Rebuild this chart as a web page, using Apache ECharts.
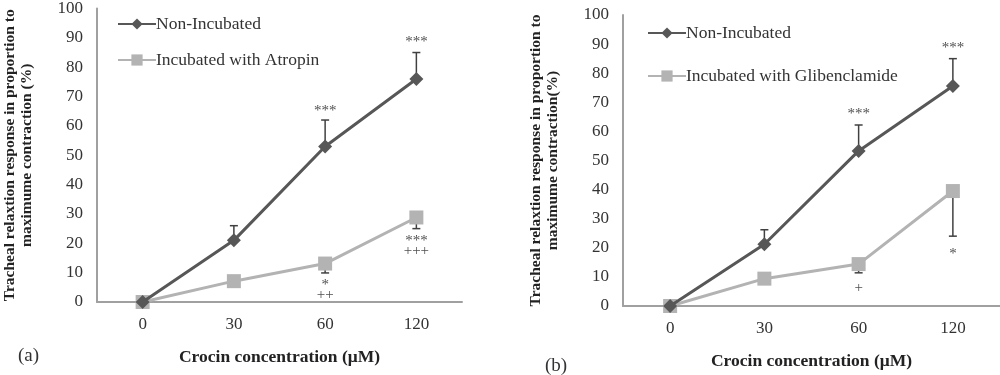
<!DOCTYPE html>
<html>
<head>
<meta charset="utf-8">
<script src="https://cdn.jsdelivr.net/npm/echarts@6/dist/echarts.min.js"></script>
<style>
  html, body { margin: 0; padding: 0; background: #fff; }
  #chart { width: 1000px; height: 375px; }
</style>
</head>
<body>
<div id="chart"></div>
<script>
// concentrations (uM)
const categories = ['0', '30', '60', '120'];

// panel (a)
const nonIncA = [0, 21, 53, 76];
const nonIncErrA = [0, 5, 9, 9];
const atropin = [0, 7.1, 13.1, 28.8];
const atropinErr = [0, 0, 3.2, 3.8];

// panel (b)
const nonIncB = [0, 21.2, 53.3, 75.6];
const nonIncErrB = [0, 5, 8.9, 9.4];
const gliben = [0, 9.4, 14.4, 39.5];
const glibenErr = [0, 0, 3, 15.5];

// significance marks: [category index, y value, text]
const marksA = [[2, 65.2, '***'], [3, 88.5, '***'], [2, 5.7, '*'], [2, 2.2, '++'], [3, 20.9, '***'], [3, 17.2, '+++']];
const marksB = [[2, 66, '***'], [3, 88.6, '***'], [2, 6.3, '+'], [3, 17.9, '*']];

const FONT = "'Liberation Serif', 'Times New Roman', serif";
const DARK = '#575757';
const LIGHT = '#b3b3b3';
const yTitle = 'Tracheal relaxtion response in proportion to';

const chart = echarts.init(document.getElementById('chart'));

function errBars(vals, errs, dir) {
    return vals.map((v, i) => [i, v, errs[i] * dir]);
}

function renderErr(params, api) {
    const i = api.value(0);
    const v = api.value(1);
    const e = api.value(2);
    if (!e) return null;
    const p0 = api.coord([i, v]);
    const p1 = api.coord([i, v + e]);
    const w = 4;
    return {
        type: 'group',
        children: [
            { type: 'line', shape: { x1: p0[0], y1: p0[1], x2: p1[0], y2: p1[1] }, style: { stroke: '#404040', lineWidth: 1.5 } },
            { type: 'line', shape: { x1: p1[0] - w, y1: p1[1], x2: p1[0] + w, y2: p1[1] }, style: { stroke: '#404040', lineWidth: 1.5 } }
        ]
    };
}

function lineSeries(name, data, idx, dark) {
    return {
        name: name,
        type: 'line',
        data: data,
        xAxisIndex: idx,
        yAxisIndex: idx,
        symbol: dark ? 'diamond' : 'rect',
        symbolSize: 14,
        lineStyle: { color: dark ? DARK : LIGHT, width: 3 },
        itemStyle: { color: dark ? DARK : LIGHT },
        z: dark ? 4 : 3,
        animation: false
    };
}

function errSeries(data, idx) {
    return {
        type: 'custom',
        data: data,
        xAxisIndex: idx,
        yAxisIndex: idx,
        renderItem: renderErr,
        z: 2,
        silent: true,
        animation: false
    };
}

function markSeries(marks, idx) {
    return {
        type: 'scatter',
        xAxisIndex: idx,
        yAxisIndex: idx,
        symbolSize: 0,
        data: marks.map(m => ({ value: [m[0], m[1]], label: { formatter: m[2] } })),
        label: {
            show: true,
            position: 'inside',
            color: '#222',
            fontFamily: FONT,
            fontSize: 15
        },
        silent: true,
        animation: false
    };
}

function xAxis(idx) {
    return {
        type: 'category',
        data: categories,
        gridIndex: idx,
        name: 'Crocin concentration (\u03bcM)',
        nameLocation: 'middle',
        nameGap: 46,
        nameTextStyle: { fontFamily: FONT, fontSize: 17.5, fontWeight: 'bold', color: '#222' },
        axisLine: { lineStyle: { color: '#a0a0a0', width: 2 } },
        axisTick: { show: false },
        axisLabel: { fontFamily: FONT, fontSize: 17, color: '#333', margin: 14 }
    };
}

function yAxis(idx, second) {
    return {
        type: 'value',
        gridIndex: idx,
        min: 0,
        max: 100,
        interval: 10,
        name: yTitle + '\n' + second,
        nameLocation: 'middle',
        nameRotate: 90,
        nameGap: 62,
        nameTextStyle: { fontFamily: FONT, fontSize: 15.5, fontWeight: 'bold', color: '#222', lineHeight: 17 },
        axisLine: { show: true, lineStyle: { color: '#a0a0a0', width: 2 } },
        axisTick: { show: false },
        splitLine: { show: false },
        axisLabel: { fontFamily: FONT, fontSize: 17, color: '#333', margin: 14 }
    };
}

function legend(names, left, top, gap) {
    return {
        data: names,
        orient: 'vertical',
        left: left,
        top: top,
        itemWidth: 38,
        itemHeight: 14,
        itemGap: gap,
        padding: 0,
        textStyle: { fontFamily: FONT, fontSize: 17.5, color: '#333', padding: [0, 0, 0, -5] }
    };
}

const option = {
    backgroundColor: '#fff',
    animation: false,
    grid: [
        { left: 96, top: 6, width: 366, height: 296 },
        { left: 623, top: 15, width: 377, height: 296 }
    ],
    xAxis: [xAxis(0), xAxis(1)],
    yAxis: [yAxis(0, 'maximume contraction (%)'), yAxis(1, 'maximume contraction(%)')],
    legend: [
        legend(['Non-Incubated', 'Incubated with Atropin'], 117, 15, 18),
        legend(['Non-Incubated ', 'Incubated with Glibenclamide'], 647, 24, 25)
    ],
    graphic: [
        { type: 'text', left: 18, top: 347, style: { text: '(a)', font: '19px ' + FONT, fill: '#333' } },
        { type: 'text', left: 545, top: 357, style: { text: '(b)', font: '19px ' + FONT, fill: '#333' } }
    ],
    series: [
        errSeries(errBars(nonIncA, nonIncErrA, 1), 0),
        errSeries(errBars(atropin, atropinErr, -1), 0),
        lineSeries('Non-Incubated', nonIncA, 0, true),
        lineSeries('Incubated with Atropin', atropin, 0, false),
        markSeries(marksA, 0),
        errSeries(errBars(nonIncB, nonIncErrB, 1), 1),
        errSeries(errBars(gliben, glibenErr, -1), 1),
        lineSeries('Non-Incubated ', nonIncB, 1, true),
        lineSeries('Incubated with Glibenclamide', gliben, 1, false),
        markSeries(marksB, 1)
    ]
};

chart.setOption(option);
</script>
</body>
</html>
